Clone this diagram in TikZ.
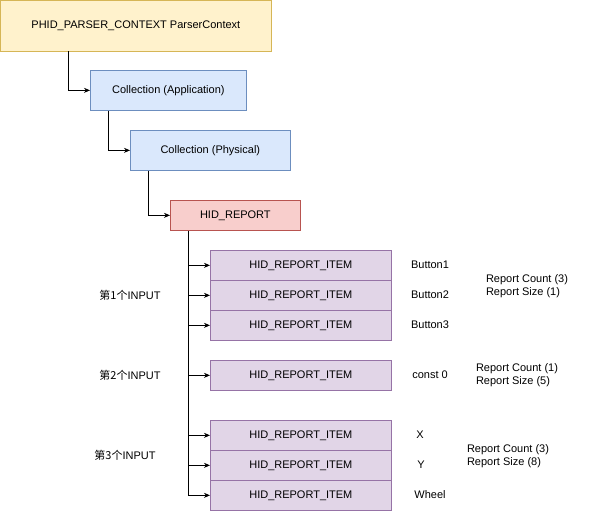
\documentclass[tikz,border=0pt]{standalone}
\usepackage{fontspec}
\setmainfont{Liberation Sans}
\newfontfamily\cjk{Noto Sans CJK SC}
\usetikzlibrary{arrows.meta,positioning}
\definecolor{ctxfill}{HTML}{FFF2CC}\definecolor{ctxdraw}{HTML}{D6B656}
\definecolor{colfill}{HTML}{DAE8FC}\definecolor{coldraw}{HTML}{6C8EBF}
\definecolor{repfill}{HTML}{F8CECC}\definecolor{repdraw}{HTML}{B85450}
\definecolor{itmfill}{HTML}{E1D5E7}\definecolor{itmdraw}{HTML}{9673A6}
\tikzstyle{box}  = [draw,rectangle,inner sep=0pt,anchor=north west]
\tikzstyle{item} = [box,fill=itmfill,draw=itmdraw,minimum width=181pt,minimum height=30pt]
\tikzstyle{lbl}  = [inner sep=0pt]

\begin{document}
\begin{tikzpicture}[x=1pt,y=-1pt,font=\fontsize{11}{13}\selectfont,
  >={Stealth[length=6pt,width=5pt]},line width=0.7pt]
\useasboundingbox (0,0) rectangle (601,511);

\node[box, fill=ctxfill, draw=ctxdraw, minimum width=270pt, minimum height=50pt] (ctx) at (0.5,0.5) {PHID\_PARSER\_CONTEXT ParserContext};
\node[box, fill=colfill, draw=coldraw, minimum width=156pt, minimum height=40pt] (app) at (90,70) {Collection (Application)};
\node[box, fill=colfill, draw=coldraw, minimum width=160pt, minimum height=40pt] (phy) at (130,130) {Collection (Physical)};
\node[box, fill=repfill, draw=repdraw, minimum width=130pt, minimum height=30pt] (rep) at (170,200) {HID\_REPORT};

\node[item] (i1) at (210,250) {HID\_REPORT\_ITEM};
\node[item] (i2) at (210,280) {HID\_REPORT\_ITEM};
\node[item] (i3) at (210,310) {HID\_REPORT\_ITEM};
\node[item] (i4) at (210,360) {HID\_REPORT\_ITEM};
\node[item] (i5) at (210,420) {HID\_REPORT\_ITEM};
\node[item] (i6) at (210,450) {HID\_REPORT\_ITEM};
\node[item] (i7) at (210,480) {HID\_REPORT\_ITEM};

\node[lbl] (b1) at (430,265) {Button1};
\node[lbl] (b2) at (430,295) {Button2};
\node[lbl] (b3) at (430,325) {Button3};
\node[lbl] (c0) at (430,375) {const 0};
\node[lbl] (ax) at (420,435) {X};
\node[lbl] (ay) at (421,465) {Y};
\node[lbl] (wh) at (430,495) {Wheel};

\node[lbl, align=left] (rc1) at (527,286) {Report Count (3)\\Report Size (1)};
\node[lbl, align=left] (rc2) at (517,375) {Report Count (1)\\Report Size (5)};
\node[lbl, align=left] (rc3) at (508,456) {Report Count (3)\\Report Size (8)};

\node[lbl] (in1) at (130,295) {{\cjk 第1个}INPUT};
\node[lbl] (in2) at (130,375) {{\cjk 第2个}INPUT};
\node[lbl] (in3) at (125,455) {{\cjk 第3个}INPUT};

\draw[->] ([xshift=68]ctx.south west) |- (app.west);
\draw[->] ([xshift=18]app.south west) |- (phy.west);
\draw[->] ([xshift=18]phy.south west) |- (rep.west);

\coordinate (tr) at ([xshift=18]rep.south west);
\draw[->] (tr) |- (i7.west);
\foreach \i in {i1,i2,i3,i4,i5,i6}
  \draw[->] (tr |- \i.west) -- (\i.west);

\end{tikzpicture}
\end{document}
